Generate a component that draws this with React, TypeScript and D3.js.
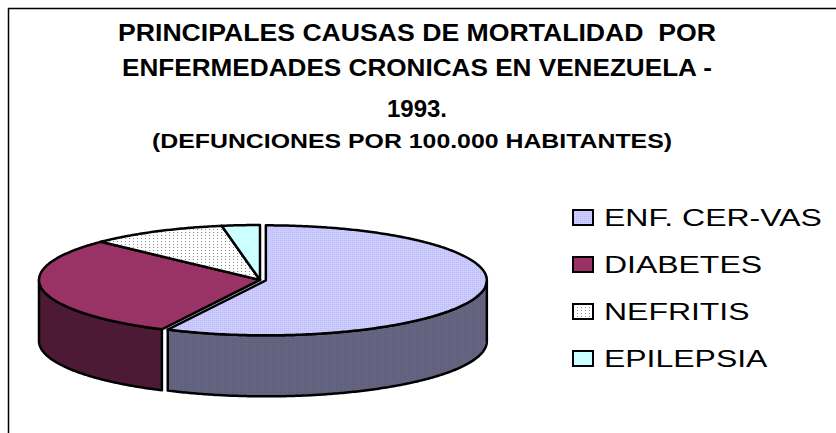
import React from "react";
import * as d3 from "d3";

const categories = ["ENF. CER-VAS", "DIABETES", "NEFRITIS", "EPILEPSIA"];
const values = [37.2, 19.4, 6.5, 1.8];
const topColors = ["url(#patEnf)", "#993366", "url(#patNef)", "#ccffff"];
const sideColors = ["url(#patEnfSide)", "#4d1a36", "#d8d8d8", "#99cccc"];
const legendFills = ["url(#patEnf)", "#993366", "url(#patNef)", "#ccffff"];
const titleLines = [
  "PRINCIPALES CAUSAS DE MORTALIDAD  POR",
  "ENFERMEDADES CRONICAS EN VENEZUELA -",
  "1993.",
  "(DEFUNCIONES POR 100.000 HABITANTES)",
];
const exploded = [6, 0, 0, 0];

const W = 836;
const H = 433;

export default function App() {
  const cx = 260;
  const cy = 280;
  const rx = 221;
  const ry = 55;
  const depth = 61;

  const pie = d3
    .pie<number>()
    .sort(null)
    .startAngle(0)
    .endAngle(2 * Math.PI)
    .value((d) => d);
  const arcs = pie(values);

  const line = d3.line();

  const slices = arcs.map((a, i) => {
    const mid = (a.startAngle + a.endAngle) / 2;
    const ox = exploded[i] * Math.sin(mid);
    const oy = -exploded[i] * Math.cos(mid) * (ry / rx);
    const pt = (t: number, dz = 0): [number, number] => [
      cx + ox + rx * Math.sin(t),
      cy + oy - ry * Math.cos(t) + dz,
    ];
    const rim = (t0: number, t1: number, dz = 0) => {
      const n = Math.max(2, Math.ceil(Math.abs(t1 - t0) / 0.01));
      return d3.range(n + 1).map((k) => pt(t0 + ((t1 - t0) * k) / n, dz));
    };
    const top =
      line([[cx + ox, cy + oy], ...rim(a.startAngle, a.endAngle)]) + "Z";
    const s = Math.max(a.startAngle, Math.PI / 2);
    const e = Math.min(a.endAngle, (3 * Math.PI) / 2);
    let side: string | null = null;
    if (s < e) {
      side = line([...rim(s, e), ...rim(e, s, depth)]) + "Z";
    }
    return { top, side, i };
  });

  const legendY = d3
    .scalePoint<string>()
    .domain(categories)
    .range([226, 367]);

  const font = "Arial, 'Liberation Sans', sans-serif";

  // title layout
  const titleY = [41, 76, 117, 148];
  const titleX = [417, 417, 417, 412];
  const titleLen = [598, 590, 0, 520];
  const titleSize = [24, 24, 24, 20];

  return (
    <svg
      width={W}
      height={H}
      style={{ position: "fixed", left: 0, top: 0, background: "#fff" }}
    >
      <defs>
        <pattern id="patEnf" width="2" height="2" patternUnits="userSpaceOnUse">
          <rect width="2" height="2" fill="#ccccff" />
          <rect width="1" height="1" fill="#babaf0" />
        </pattern>
        <pattern id="patEnfSide" width="2" height="2" patternUnits="userSpaceOnUse">
          <rect width="2" height="2" fill="#666683" />
          <rect width="1" height="1" fill="#5a5a78" />
        </pattern>
        <pattern id="patNef" width="4" height="3" patternUnits="userSpaceOnUse">
          <rect width="4" height="3" fill="#ffffff" />
          <rect x="1" y="1" width="1" height="1" fill="#8a8a8a" />
        </pattern>
      </defs>

      <rect x={8.5} y={8.5} width={W + 20} height={H + 20} fill="none" stroke="#000" strokeWidth={1.5} />

      <g fontFamily={font} fontWeight="bold" fill="#000" textAnchor="middle">
        {titleLines.map((t, i) => (
          <text
            key={t}
            x={titleX[i]}
            y={titleY[i]}
            fontSize={titleSize[i]}
            style={{ whiteSpace: "pre" }}
            {...(titleLen[i]
              ? { textLength: titleLen[i], lengthAdjust: "spacingAndGlyphs" }
              : {})}
          >
            {t}
          </text>
        ))}
      </g>

      <g stroke="#000" strokeWidth={2.5} strokeLinejoin="round">
        {slices.map((s) =>
          s.side ? <path key={"s" + s.i} d={s.side} fill={sideColors[s.i]} /> : null
        )}
        {slices.map((s) => (
          <path key={"t" + s.i} d={s.top} fill={topColors[s.i]} />
        ))}
      </g>

      <g fontFamily={font}>
        {categories.map((c, i) => {
          const y = legendY(c) as number;
          return (
            <g key={c}>
              <rect
                x={573}
                y={y - 16}
                width={20}
                height={15}
                fill={legendFills[i]}
                stroke="#000"
                strokeWidth={2}
              />
              <text
                transform={`translate(604,${y}) scale(1.39,1)`}
                fontSize={23}
                fill="#000"
              >
                {c}
              </text>
            </g>
          );
        })}
      </g>
    </svg>
  );
}
